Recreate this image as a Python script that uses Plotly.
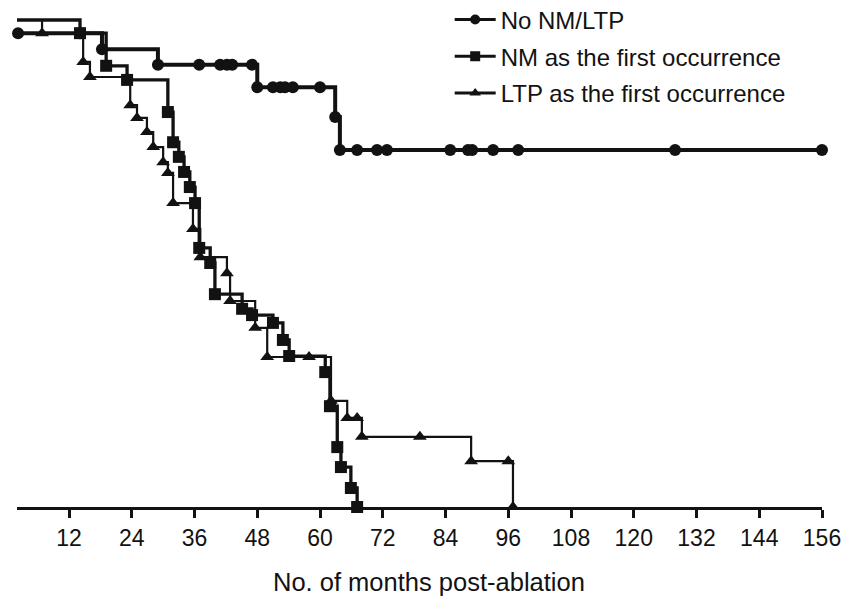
import plotly.graph_objects as go

# ---- data (months post-ablation, % event-free) ----
x_tick_vals = [12, 24, 36, 48, 60, 72, 84, 96, 108, 120, 132, 144, 156]
x_tick_text = [str(v) for v in x_tick_vals]

no_t = [0, 1.0, 2.25, 14.1, 18.3, 29.0, 36.9, 40.9, 42.2, 43.2, 47.0, 48.0,
        51.0, 52.4, 53.3, 54.8, 60.0, 62.9, 63.8, 67.1, 70.9, 72.8, 84.9,
        88.3, 89.1, 93.1, 97.9, 127.9, 156.0]
no_s = [100, 97.3, 97.3, 97.3, 94.0, 90.8, 90.8, 90.8, 90.8, 90.8, 90.8, 86.2,
        86.2, 86.2, 86.2, 86.2, 86.2, 80.1, 73.3, 73.3, 73.3, 73.3, 73.3,
        73.3, 73.3, 73.3, 73.3, 73.3, 73.3]

nm_t = [0, 14.1, 19.1, 23.1, 30.9, 31.9, 33.0, 34.0, 35.1, 36.1, 36.9, 39.0,
        39.9, 45.1, 47.0, 51.0, 52.9, 54.1, 61.0, 61.9, 63.3, 64.0, 65.9, 67.1]
nm_s = [100, 97.3, 90.6, 87.7, 81.1, 74.9, 71.9, 68.8, 65.7, 62.4, 53.2, 50.1,
        43.7, 40.7, 39.4, 37.8, 34.3, 31.0, 27.7, 20.7, 12.3, 8.2, 3.9, 0]

ltp_t = [0, 6.84, 14.7, 16.0, 23.7, 25.0, 26.9, 28.1, 30.0, 30.9, 31.9, 35.7,
         37.1, 42.2, 42.8, 47.6, 49.9, 57.9, 62.1, 65.2, 67.1, 68.0, 79.1,
         88.9, 96.0, 96.9]
ltp_s = [100, 97.3, 91.4, 88.3, 82.5, 79.9, 77.0, 73.9, 70.8, 68.6, 62.4, 57.1,
         51.3, 48.0, 42.3, 36.8, 30.8, 30.8, 21.8, 18.3, 18.3, 14.4, 14.4,
         9.4, 9.4, 0]

names = ["No NM/LTP", "NM as the first occurrence", "LTP as the first occurrence"]
x_title = "No. of months post-ablation"

X_START = 2.05
X_END = 156
FONT = "Liberation Sans, Arial, sans-serif"
INK = "#121212"

series = [
    (names[0], no_t, no_s, "circle", 12, 4.0),
    (names[1], nm_t, nm_s, "square", 12, 3.3),
    (names[2], ltp_t, ltp_s, "triangle-up", 12, 2.2),
]

fig = go.Figure()
for i, (nm, t, s, sym, msize, lw) in enumerate(series):
    fig.add_trace(go.Scatter(
        x=t, y=s, mode="lines", line=dict(color=INK, width=lw, shape="hv"),
        showlegend=False, hoverinfo="skip"))
    mt = [a for a in t if a >= X_START]
    ms = [b for a, b in zip(t, s) if a >= X_START]
    fig.add_trace(go.Scatter(
        x=mt, y=ms, mode="markers",
        marker=dict(symbol=sym, size=msize, color=INK, line=dict(width=0)),
        showlegend=False, cliponaxis=False))
    fig.add_trace(go.Scatter(
        x=[None], y=[None], mode="lines+markers", name=nm,
        legendgroup=f"g{i}",
        line=dict(color=INK, width=3),
        marker=dict(symbol=sym, size=10, color=INK)))

fig.update_layout(
    width=859, height=597,
    margin=dict(l=17, r=37, t=5, b=90, autoexpand=False),
    paper_bgcolor="white", plot_bgcolor="white",
    font=dict(family=FONT, color=INK),
    showlegend=True,
    legend=dict(x=0.5375, y=1.015, xanchor="left", yanchor="top",
                font=dict(size=24, family=FONT, color=INK),
                bgcolor="rgba(0,0,0,0)", tracegroupgap=2.5, itemwidth=41,
                traceorder="grouped"),
    xaxis=dict(range=[X_START, X_END], tickmode="array",
               tickvals=x_tick_vals, ticktext=x_tick_text,
               showgrid=False, zeroline=False,
               showline=True, linecolor=INK, linewidth=3,
               ticks="outside", ticklen=8, tickwidth=2.5, tickcolor=INK,
               tickfont=dict(size=23, family=FONT, color=INK)),
    yaxis=dict(range=[0, 103.08], visible=False, showgrid=False, zeroline=False),
    annotations=[dict(text=x_title, xref="paper", yref="paper",
                      x=0.5118, y=0, xanchor="center", yanchor="middle",
                      yshift=-75, showarrow=False,
                      font=dict(size=25.5, family=FONT, color=INK))],
)

fig.write_html("out.html",
               config={"displayModeBar": False},
               post_script="document.body.style.margin='0';")
